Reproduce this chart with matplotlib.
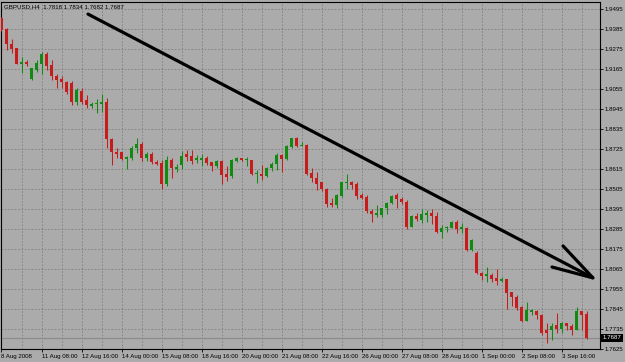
import numpy as np
import matplotlib.pyplot as plt
from matplotlib.transforms import blended_transform_factory

plt.rcParams['font.family'] = ['Liberation Sans', 'DejaVu Sans']

# GBPUSD H4 candles, 8 Aug 2008 -> 4 Sep 2008
opens = [
    1.9446, 1.9385, 1.9303, 1.9278, 1.9195, 1.9204, 1.9110, 1.9162, 1.9193, 1.9245,
    1.9187, 1.9127, 1.9110, 1.9096, 1.9088, 1.8981, 1.9044, 1.8992, 1.8964, 1.8971,
    1.8971, 1.8984, 1.8780, 1.8711, 1.8706, 1.8672, 1.8674, 1.8729, 1.8751, 1.8677,
    1.8698, 1.8655, 1.8650, 1.8531, 1.8667, 1.8617, 1.8637, 1.8695, 1.8687, 1.8665,
    1.8665, 1.8678, 1.8651, 1.8629, 1.8659, 1.8588, 1.8574, 1.8661, 1.8676, 1.8665,
    1.8665, 1.8586, 1.8588, 1.8578, 1.8619, 1.8643, 1.8692, 1.8668, 1.8738, 1.8784,
    1.8743, 1.8747, 1.8595, 1.8567, 1.8542, 1.8505, 1.8430, 1.8417, 1.8468, 1.8538,
    1.8545, 1.8531, 1.8472, 1.8463, 1.8386, 1.8364, 1.8362, 1.8399, 1.8426, 1.8472,
    1.8450, 1.8435, 1.8298, 1.8357, 1.8335, 1.8362, 1.8375, 1.8357, 1.8267, 1.8289,
    1.8292, 1.8325, 1.8283, 1.8292, 1.8170, 1.8153, 1.8041, 1.8027, 1.8032, 1.8014,
    1.8001, 1.8008, 1.7940, 1.7913, 1.7854, 1.7781, 1.7829, 1.7836, 1.7812, 1.7730,
    1.7730, 1.7757, 1.7735, 1.7766, 1.7753, 1.7730, 1.7834, 1.7818,
]
highs = [
    1.9451, 1.9391, 1.9330, 1.9281, 1.9231, 1.9217, 1.9173, 1.9215, 1.9260, 1.9256,
    1.9215, 1.9138, 1.9127, 1.9099, 1.9099, 1.9061, 1.9061, 1.9022, 1.8981, 1.9000,
    1.9030, 1.9008, 1.8783, 1.8728, 1.8709, 1.8687, 1.8739, 1.8786, 1.8766, 1.8706,
    1.8706, 1.8662, 1.8665, 1.8687, 1.8678, 1.8641, 1.8714, 1.8717, 1.8720, 1.8692,
    1.8698, 1.8684, 1.8656, 1.8665, 1.8665, 1.8632, 1.8670, 1.8683, 1.8678, 1.8683,
    1.8667, 1.8610, 1.8637, 1.8628, 1.8655, 1.8705, 1.8696, 1.8747, 1.8787, 1.8793,
    1.8765, 1.8751, 1.8619, 1.8600, 1.8545, 1.8509, 1.8454, 1.8476, 1.8545, 1.8588,
    1.8549, 1.8542, 1.8481, 1.8472, 1.8393, 1.8417, 1.8403, 1.8435, 1.8472, 1.8481,
    1.8463, 1.8445, 1.8362, 1.8371, 1.8393, 1.8390, 1.8393, 1.8380, 1.8307, 1.8303,
    1.8331, 1.8335, 1.8320, 1.8296, 1.8230, 1.8164, 1.8050, 1.8078, 1.8041, 1.8063,
    1.8021, 1.8010, 1.7940, 1.7922, 1.7862, 1.7885, 1.7843, 1.7840, 1.7818, 1.7766,
    1.7766, 1.7821, 1.7775, 1.7770, 1.7761, 1.7858, 1.7834, 1.7834,
]
lows = [
    1.9374, 1.9270, 1.9253, 1.9190, 1.9145, 1.9179, 1.9105, 1.9149, 1.9138, 1.9160,
    1.9105, 1.9061, 1.9063, 1.9030, 1.8967, 1.8967, 1.8973, 1.8953, 1.8953, 1.8923,
    1.8929, 1.8733, 1.8637, 1.8673, 1.8665, 1.8615, 1.8665, 1.8703, 1.8659, 1.8659,
    1.8640, 1.8637, 1.8505, 1.8522, 1.8568, 1.8600, 1.8615, 1.8659, 1.8643, 1.8646,
    1.8632, 1.8637, 1.8606, 1.8621, 1.8533, 1.8549, 1.8568, 1.8651, 1.8659, 1.8633,
    1.8582, 1.8538, 1.8555, 1.8573, 1.8604, 1.8610, 1.8601, 1.8665, 1.8732, 1.8738,
    1.8741, 1.8582, 1.8545, 1.8500, 1.8496, 1.8408, 1.8404, 1.8399, 1.8463, 1.8503,
    1.8505, 1.8450, 1.8448, 1.8375, 1.8325, 1.8353, 1.8353, 1.8368, 1.8423, 1.8399,
    1.8423, 1.8283, 1.8294, 1.8331, 1.8316, 1.8325, 1.8313, 1.8261, 1.8234, 1.8270,
    1.8289, 1.8261, 1.8265, 1.8164, 1.8164, 1.8038, 1.8005, 1.7995, 1.7995, 1.7977,
    1.7994, 1.7845, 1.7862, 1.7840, 1.7776, 1.7779, 1.7812, 1.7788, 1.7702, 1.7660,
    1.7675, 1.7711, 1.7711, 1.7730, 1.7702, 1.7727, 1.7730, 1.7682,
]
closes = [
    1.9380, 1.9303, 1.9275, 1.9193, 1.9204, 1.9195, 1.9171, 1.9198, 1.9250, 1.9182,
    1.9124, 1.9107, 1.9091, 1.9041, 1.8981, 1.9050, 1.8986, 1.8967, 1.8973, 1.8977,
    1.8984, 1.8780, 1.8706, 1.8698, 1.8670, 1.8683, 1.8731, 1.8753, 1.8676, 1.8698,
    1.8655, 1.8643, 1.8533, 1.8665, 1.8619, 1.8628, 1.8687, 1.8683, 1.8659, 1.8674,
    1.8678, 1.8646, 1.8632, 1.8659, 1.8582, 1.8573, 1.8665, 1.8674, 1.8662, 1.8670,
    1.8586, 1.8595, 1.8578, 1.8622, 1.8643, 1.8692, 1.8668, 1.8742, 1.8784, 1.8743,
    1.8747, 1.8588, 1.8564, 1.8531, 1.8505, 1.8423, 1.8417, 1.8472, 1.8542, 1.8545,
    1.8527, 1.8468, 1.8458, 1.8386, 1.8366, 1.8371, 1.8399, 1.8430, 1.8468, 1.8450,
    1.8435, 1.8294, 1.8357, 1.8338, 1.8366, 1.8375, 1.8357, 1.8270, 1.8292, 1.8298,
    1.8325, 1.8285, 1.8294, 1.8170, 1.8225, 1.8041, 1.8028, 1.8036, 1.8010, 1.8001,
    1.8010, 1.7935, 1.7913, 1.7849, 1.7781, 1.7840, 1.7840, 1.7810, 1.7711, 1.7711,
    1.7752, 1.7735, 1.7766, 1.7753, 1.7730, 1.7834, 1.7812, 1.7687,
]

time_labels = ['8 Aug 2008', '11 Aug 08:00', '12 Aug 16:00', '14 Aug 00:00', '15 Aug 08:00',
               '18 Aug 16:00', '20 Aug 00:00', '21 Aug 08:00', '22 Aug 16:00', '26 Aug 00:00',
               '27 Aug 08:00', '28 Aug 16:00', '1 Sep 00:00', '2 Sep 08:00', '3 Sep 16:00']
price_labels = ['1.9495', '1.9385', '1.9275', '1.9165', '1.9055', '1.8945', '1.8835', '1.8725',
                '1.8615', '1.8505', '1.8395', '1.8285', '1.8175', '1.8065', '1.7955', '1.7845',
                '1.7735', '1.7625']
title = 'GBPUSD,H4  1.7818 1.7834 1.7682 1.7687'
last_price = 1.7687

# hand drawn trend arrow (bar index, price)
arrow_line = [(17.3, 1.9467), (118.3, 1.8016)]
arrow_head = [(112.3, 1.8192), (118.3, 1.8016), (110.1, 1.8076)]

bg = '#ababab'
bull = '#118a11'
bear = '#c81c1c'
fs = 4.4

W, H = 625, 362
fig = plt.figure(figsize=(W / 100, H / 100), dpi=100, facecolor=bg)
ax = fig.add_axes([1.5 / W, 1 - 349 / H, 598.5 / W, 347.5 / H], facecolor=bg)

o = np.array(opens)
h = np.array(highs)
l = np.array(lows)
c = np.array(closes)
idx = np.arange(len(o))
up = c >= o
cols = np.where(up, bull, bear)

ax.vlines(idx, l, h, colors=cols, lw=0.75, zorder=3)
body_lo = np.minimum(o, c)
body_h = np.maximum(np.abs(c - o), 0.00045)
ax.bar(idx, body_h, bottom=body_lo, width=0.62, color=cols, edgecolor='none', zorder=4)

ax.axhline(last_price, color='#8c8c8c', lw=0.9, zorder=2)

xs, ys = zip(*arrow_line)
ax.plot(xs, ys, color='black', lw=2.3, solid_capstyle='round', zorder=6)
xs, ys = zip(*arrow_head)
ax.plot(xs, ys, color='black', lw=2.3, solid_capstyle='round', solid_joinstyle='miter', zorder=6)

ax.set_xlim(0, 119.7)
ax.set_ylim(1.7625, 1.95363)

ax.set_xticks(np.arange(0, len(time_labels) * 8, 8))
ax.set_xticklabels(time_labels, ha='left')
ax.set_xticks(np.arange(0, 120, 4), minor=True)
ax.yaxis.tick_right()
ax.set_yticks([float(s) for s in price_labels])
ax.set_yticklabels(price_labels)

ax.tick_params(axis='both', which='major', length=2, width=0.6, labelsize=fs, colors='black', pad=1.5)
ax.tick_params(axis='x', which='minor', length=0)
ax.grid(True, which='both', color='#7e7e7e', lw=0.6, ls=(0, (2, 2)), zorder=1)

for sp in ax.spines.values():
    sp.set_color('black')
    sp.set_linewidth(0.8)

tr = blended_transform_factory(ax.transAxes, ax.transData)
ax.text(1.005, last_price, f'{last_price:.4f}', transform=tr, ha='left', va='center',
        fontsize=fs, color='white', zorder=7,
        bbox=dict(boxstyle='square,pad=0.25', fc='black', ec='none'))

fig.text(4 / W, 1 - 7 / H, title, fontsize=fs, color='black', ha='left', va='center')

fig.savefig('out.png', dpi=100, facecolor=bg)
